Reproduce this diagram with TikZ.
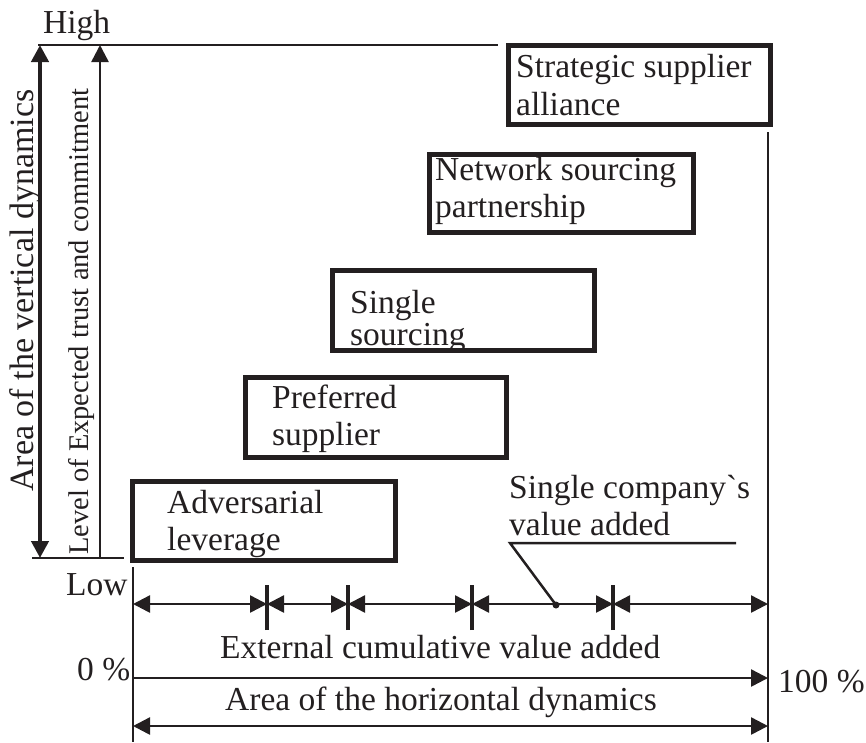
\documentclass[tikz,border=0pt]{standalone}
\usepackage{fontspec}
\setmainfont{Liberation Serif}
\usetikzlibrary{arrows.meta}
\definecolor{ink}{RGB}{35,31,32}
\tikzset{
  boxframe/.style={draw=ink, line width=5.5pt},
  lbl/.style={inner sep=0pt, anchor=base west, text=ink, font=\fontsize{33.5}{38}\selectfont},
  thin/.style={draw=ink, line width=2.5pt},
  tickmark/.style={draw=ink, line width=3.2pt},
  tip/.style={-{Triangle[width=17pt,length=17pt]}},
  dtip/.style={{Triangle[width=17pt,length=17pt]}-{Triangle[width=17pt,length=17pt]}},
}
\begin{document}
\begin{tikzpicture}[x=1pt,y=-1pt]
\useasboundingbox (0,0) rectangle (866,742);

% ---- vertical axis ----
\coordinate (vtop) at (40,45);
\coordinate (vbot) at (40,558);
\coordinate (ltop) at (100,45);
\coordinate (lbot) at (100,558);
\coordinate (hl0) at (38,45);
\coordinate (hl1) at (498,45);
\coordinate (bl0) at (32,558);
\coordinate (bl1) at (124,558);
\draw[ink, line width=4.5pt, dtip] (vtop) -- (vbot);
\draw[thin, tip] (lbot) -- (ltop);
\draw[thin] (hl0) -- (hl1);
\draw[thin] (bl0) -- (bl1);

\node[lbl] (high) at (43,33) {High};
\node[lbl] (low) at (66,595) {Low};
\node[lbl, rotate=90, font=\fontsize{34}{38}\selectfont] (area) at (33,492) {Area of the vertical dynamics};
\node[lbl, rotate=90, font=\fontsize{28.5}{32}\selectfont] (level) at (88,555) {Level of Expected trust and commitment};

% ---- boxes ----
\node[lbl] (s1) at (516,77) {Strategic supplier};
\node[lbl] (s2) at (516,115) {alliance};
\draw[boxframe] (508.5,45.5) rectangle (770.5,124.5);
\node[lbl] (n1) at (435,180) {Network sourcing};
\node[lbl] (n2) at (435,217) {partnership};
\draw[boxframe] (429.5,154.5) rectangle (693.5,232.5);
\node[lbl] (g1) at (350,313) {Single};
\node[lbl] (g2) at (350,345) {sourcing};
\draw[boxframe] (332.5,270.5) rectangle (594.5,350.5);
\node[lbl] (p1) at (272,408) {Preferred};
\node[lbl] (p2) at (272,445) {supplier};
\draw[boxframe] (245.5,377.5) rectangle (506.5,457.5);
\node[lbl] (a1) at (167,513) {Adversarial};
\node[lbl] (a2) at (167,550) {leverage};
\draw[boxframe] (132.5,481.5) rectangle (395.5,560.5);

% ---- horizontal axis ----
\coordinate (left0) at (133,567);
\coordinate (left1) at (133,742);
\coordinate (right0) at (768,132);
\coordinate (right1) at (768,742);
\draw[thin] (left0) -- (left1);
\draw[thin] (right0) -- (right1);

\coordinate (t0) at (133,604);
\coordinate (t1) at (267,604);
\coordinate (t2) at (348,604);
\coordinate (t3) at (472,604);
\coordinate (t4) at (613,604);
\coordinate (t5) at (768,604);
\foreach \c in {t1,t2,t3,t4}
  \draw[tickmark] ([yshift=-26pt]\c) -- ([yshift=19pt]\c);
\draw[thin, dtip] (t0) -- (t1);
\draw[thin, dtip] (t1) -- (t2);
\draw[thin, dtip] (t2) -- (t3);
\draw[thin, dtip] (t3) -- (t4);
\draw[thin, dtip] (t4) -- (t5);

\coordinate (dot) at (556,605);
\coordinate (lk) at (510,543);
\coordinate (le) at (736,543);
\fill[ink] (dot) circle (3.5pt);
\draw[thin] (dot) -- (lk) -- (le);
\node[lbl] (sc1) at (509,498) {Single company\textasciigrave s};
\node[lbl] (sc2) at (509,535) {value added};

\node[lbl] (ext) at (220,658) {External cumulative value added};
\coordinate (e0) at (133,678);
\coordinate (e1) at (768,678);
\draw[thin, tip] (e0) -- (e1);
\node[lbl] (zero) at (77,680) {0 \%};
\node[lbl] (hund) at (778,692) {100 \%};

\node[lbl] (hor) at (225,710) {Area of the horizontal dynamics};
\coordinate (h0) at (133,726);
\coordinate (h1) at (768,726);
\draw[thin, dtip] (h0) -- (h1);
\end{tikzpicture}
\end{document}
